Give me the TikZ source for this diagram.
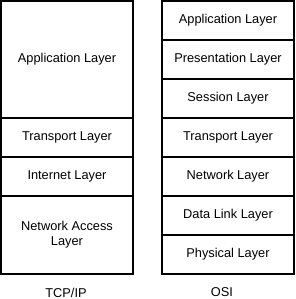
\documentclass[tikz,border=0pt]{standalone}
\usepackage{fontspec}
\setmainfont{Liberation Sans}
\usetikzlibrary{positioning}

\begin{document}
\begin{tikzpicture}[
        x=1pt, y=-1pt,
        node distance=0pt,
        font=\fontsize{12.8}{15}\selectfont,
        layer/.style={rectangle, draw=black, line width=1.1pt, outer sep=0pt, inner sep=0pt, minimum width=132pt, minimum height=39pt, align=center},
        caption/.style={inner sep=0pt}
        ]
        \useasboundingbox (0,0) rectangle (296,299);

        % TCP/IP stack
        \node[layer, anchor=north west, minimum height=117pt] (tcpapp) at (1,1) {Application Layer};
        \node[layer, below=of tcpapp] (tcptrans) {Transport Layer};
        \node[layer, below=of tcptrans] (tcpinet) {Internet Layer};
        \node[layer, below=of tcpinet, minimum height=78pt] (tcpnet) {Network Access\\Layer};

        % OSI stack
        \node[layer, anchor=north west] (osiapp) at (162,1) {Application Layer};
        \node[layer, below=of osiapp] (osipres) {Presentation Layer};
        \node[layer, below=of osipres] (osisess) {Session Layer};
        \node[layer, below=of osisess] (ositrans) {Transport Layer};
        \node[layer, below=of ositrans] (osinet) {Network Layer};
        \node[layer, below=of osinet] (osilink) {Data Link Layer};
        \node[layer, below=of osilink] (osiphys) {Physical Layer};

        \node[caption] (tcplabel) at (66,292.5) {TCP/IP};
        \node[caption] (osilabel) at (222,292.5) {OSI};
    \end{tikzpicture}
\end{document}
